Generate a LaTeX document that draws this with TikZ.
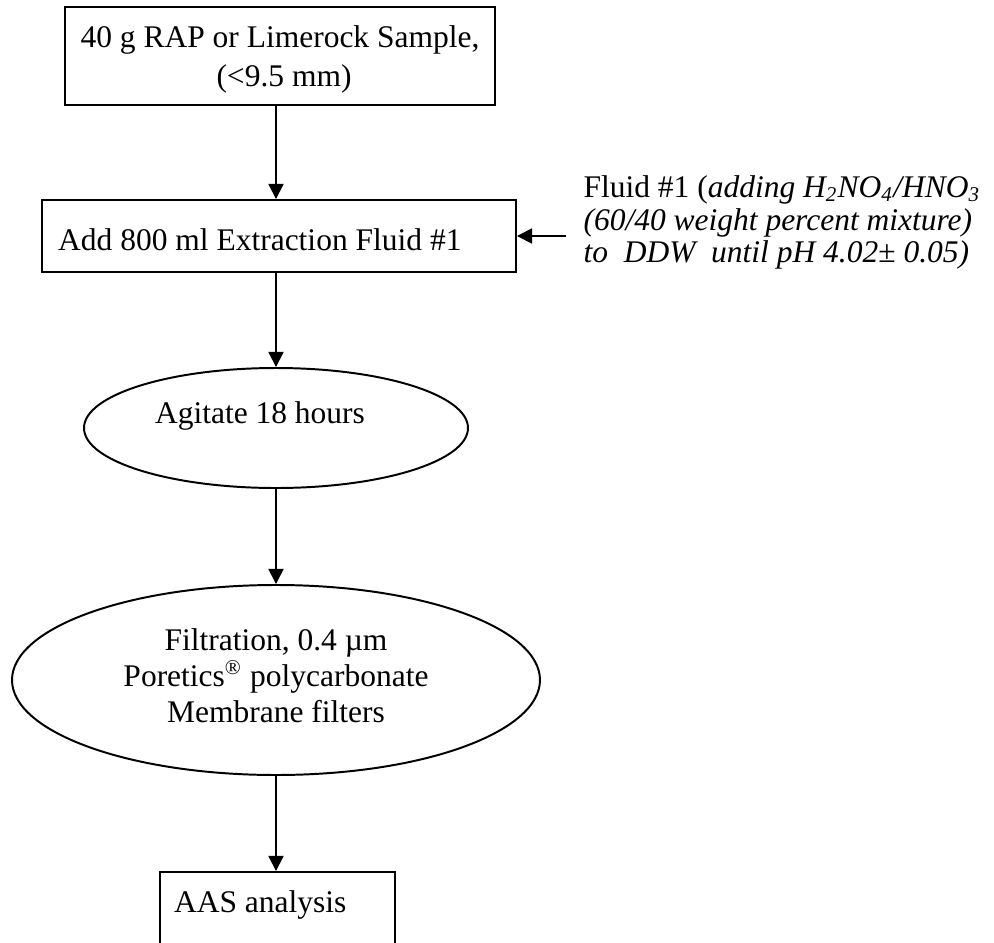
\documentclass[tikz,border=0pt]{standalone}
\usepackage{fontspec}
\setmainfont{Liberation Serif}
\usetikzlibrary{shapes.geometric,arrows.meta}
\begin{document}
\begin{tikzpicture}[x=0.381pt,y=-0.381pt,
  shapebox/.style={draw, line width=0.75pt, inner sep=0pt, rectangle},
  shapeoval/.style={draw, line width=0.75pt, inner sep=0pt, ellipse},
  flow/.style={line width=0.65pt, -{Triangle[length=5.8pt,width=5.8pt]}},
  txt/.style={inner sep=0pt, font=\fontsize{12}{14}\selectfont, anchor=base},
  txtl/.style={txt, anchor=base west},
  txtr/.style={txt, anchor=base east}]
\clip (0,0) rectangle (994,943);
% shapes
\node[shapebox, minimum width={430*0.381pt}, minimum height={98*0.381pt}] (top) at (280,56) {};
\node[shapebox, minimum width={474*0.381pt}, minimum height={72*0.381pt}] (add) at (279,236) {};
\node[shapeoval, minimum width={384*0.381pt}, minimum height={120*0.381pt}] (agit) at (276,428) {};
\node[shapeoval, minimum width={528*0.381pt}, minimum height={190*0.381pt}] (filt) at (276,680) {};
\node[shapebox, minimum width={235*0.381pt}, minimum height={128*0.381pt}] (aas) at (277.5,936) {};
% texts
\node[txt] (t1a) at (280,47) {40 g RAP or Limerock Sample,};
\node[txt] (t1b) at (284,86) {(<9.5 mm)};
\node[txtr] (t2) at (462,250) {Add 800 ml Extraction Fluid \#1};
\node[txt] (t3) at (260,423) {Agitate 18 hours};
\node[txt] (t4a) at (276,650) {Filtration, 0.4 µm};
\node[txt] (t4b) at (276,686) {Poretics\textsuperscript{®} polycarbonate};
\node[txt] (t4c) at (276,722) {Membrane filters};
\node[txtr] (t5) at (347,912) {AAS analysis};
\node[txtl] (f1) at (583,197) {Fluid \#1 (\textit{adding H\textsubscript{2}NO\textsubscript{4}/HNO\textsubscript{3}}};
\node[txtl] (f2) at (583,230) {\textit{(60/40 weight percent mixture)}};
\node[txtl] (f3) at (583,262) {\textit{to\ \ DDW\ \ until pH 4.02}\textup{±} \textit{0.05)}};
% connectors
\coordinate (fin) at (566,236);
\draw[flow] (top.south -| agit.center) -- (add.north -| agit.center);
\draw[flow] (add.south -| agit.center) -- (agit.north);
\draw[flow] (agit.south) -- (filt.north);
\draw[flow] (filt.south) -- (aas.north -| filt.south);
\draw[flow] (fin) -- (add.east |- fin);
\end{tikzpicture}
\end{document}
